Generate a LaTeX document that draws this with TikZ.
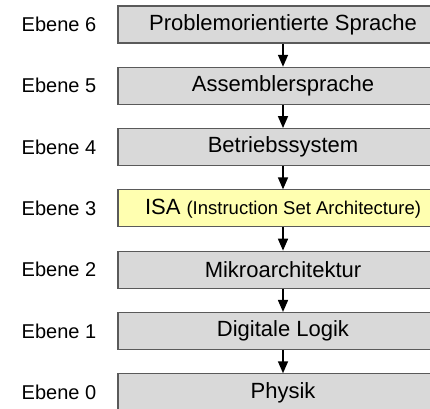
\documentclass[tikz,border=0pt]{standalone}
\usepackage{fontspec}
\setmainfont{Liberation Sans}
\usepackage{xcolor}
\usepackage{tikz}
\usetikzlibrary{arrows.meta,positioning}
\definecolor{layerGray}{HTML}{D9D9D9}
\definecolor{isaYellow}{HTML}{FFFFB0}
\definecolor{frameGray}{HTML}{5A5A5A}

\begin{document}
\begin{tikzpicture}[x=1pt, y=-1pt, node distance=23.2pt,
  layer/.style={draw=frameGray, line width=1.1pt, fill=layerGray, minimum width=330pt,
    minimum height=37pt, inner sep=0pt, font=\fontsize{22}{26}\selectfont},
  ebene/.style={inner sep=0pt, font=\fontsize{20}{24}\selectfont},
  down/.style={line width=1.6pt, -{Triangle[length=12pt, width=10pt]}}]
\useasboundingbox (0,0) rectangle (430,408);
% ---------- layers, top to bottom ----------
\node[layer] (l6) at (283,24.5) {Problemorientierte Sprache};
\node[layer, below=of l6] (l5) {Assemblersprache};
\node[layer, below=of l5] (l4) {Betriebssystem};
\node[layer, fill=isaYellow, below=of l4] (l3) {ISA {\fontsize{18.5}{22}\selectfont(Instruction Set Architecture)}};
\node[layer, below=of l3] (l2) {Mikroarchitektur};
\node[layer, below=of l2] (l1) {Digitale Logik};
\node[layer, below=of l1] (l0) {Physik};
% ---------- level labels ----------
\node[ebene, left=21pt of l6] (e6) {Ebene 6};
\node[ebene, left=21pt of l5] (e5) {Ebene 5};
\node[ebene, left=21pt of l4] (e4) {Ebene 4};
\node[ebene, left=21pt of l3] (e3) {Ebene 3};
\node[ebene, left=21pt of l2] (e2) {Ebene 2};
\node[ebene, left=21pt of l1] (e1) {Ebene 1};
\node[ebene, left=21pt of l0] (e0) {Ebene 0};
% ---------- arrows ----------
\draw[down] (l6) -- (l5);
\draw[down] (l5) -- (l4);
\draw[down] (l4) -- (l3);
\draw[down] (l3) -- (l2);
\draw[down] (l2) -- (l1);
\draw[down] (l1) -- (l0);
\end{tikzpicture}
\end{document}
